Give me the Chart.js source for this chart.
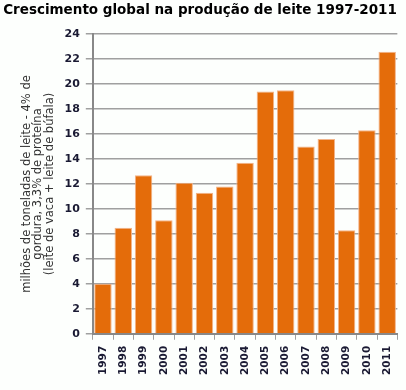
<!DOCTYPE html>
<html>
<head>
<meta charset="utf-8">
<script src="https://cdn.jsdelivr.net/npm/chart.js@4.4.0/dist/chart.umd.min.js"></script>
<style>
  html, body { margin: 0; padding: 0; background: #fdfffd; }
  #wrap { width: 406px; height: 390px; }
</style>
</head>
<body>
<div id="wrap"><canvas id="myChart" width="406" height="390"></canvas></div>
<script>
// data
const years = ['1997', '1998', '1999', '2000', '2001', '2002', '2003', '2004',
    '2005', '2006', '2007', '2008', '2009', '2010', '2011'];
const production = [4.0, 8.5, 12.7, 9.1, 12.1, 11.3, 11.8, 13.7, 19.4, 19.5, 15.0, 15.6, 8.3, 16.3, 22.6];
const yTitle = ['milhões de toneladas de leite - 4% de', 'gordura, 3,3% de proteína', '(leite de vaca + leite de búfala)'];

const tickColor = '#1a1a33';

var ctx = document.getElementById('myChart').getContext('2d');
var chart = new Chart(ctx, {
    type: 'bar',
    data: {
        labels: years,
        datasets: [{
            label: 'produção',
            backgroundColor: '#e46c0a',
            borderColor: '#f2b48a',
            borderWidth: 1,
            barPercentage: 0.86,
            categoryPercentage: 1.0,
            data: production
        }]
    },
    options: {
        responsive: false,
        animation: false,
        layout: { padding: { left: 0, right: 6, top: 0, bottom: 9 } },
        plugins: {
            legend: { display: false },
            tooltip: { enabled: false },
            title: {
                display: true,
                text: 'Crescimento global na produção de leite 1997-2011',
                color: '#000',
                font: { family: 'DejaVu Sans', size: 13.5, weight: 'bold' },
                padding: { top: 2, bottom: 16 }
            }
        },
        scales: {
            x: {
                grid: { display: true, drawOnChartArea: false, color: '#a0a0a0', tickLength: 6 },
                border: { color: '#888', width: 2 },
                ticks: {
                    minRotation: 90, maxRotation: 90,
                    color: tickColor,
                    font: { family: 'DejaVu Sans', size: 10.5, weight: 'bold' },
                    padding: 6
                }
            },
            y: {
                min: 0, max: 24,
                ticks: {
                    stepSize: 2,
                    color: tickColor,
                    font: { family: 'DejaVu Sans', size: 11, weight: 'bold' },
                    padding: 6
                },
                grid: { color: '#a0a0a0', lineWidth: 1.5, tickLength: 7 },
                border: { color: '#888', width: 2 },
                title: {
                    display: true,
                    text: yTitle,
                    color: '#333',
                    font: { family: 'DejaVu Sans', size: 11.5, lineHeight: 1.0 },
                    padding: { top: 21, bottom: 3 }
                }
            }
        }
    }
});
</script>
</body>
</html>
